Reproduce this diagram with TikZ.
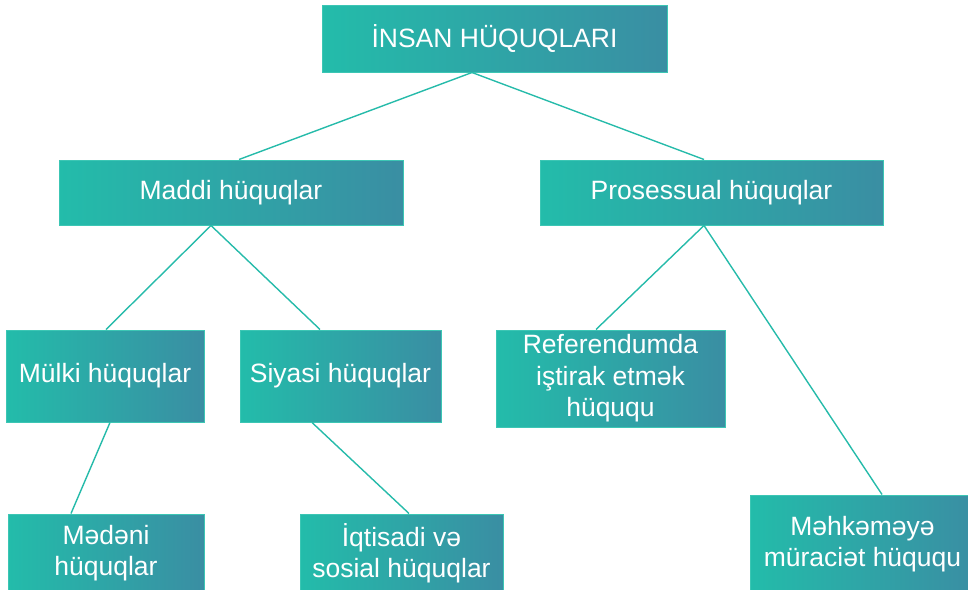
\documentclass[tikz,border=0pt]{standalone}
\usepackage{fontspec}
\setmainfont{Liberation Sans}
\usepackage{xcolor}
\definecolor{boxteal}{HTML}{23BCAA}
\definecolor{boxblue}{HTML}{3A8EA3}
\definecolor{boxedge}{HTML}{3CC6B4}
\definecolor{linkteal}{HTML}{26BBAA}

\begin{document}
\begin{tikzpicture}[
  x=1pt,
  y=-1pt,
  every node/.style={font=\fontsize{26.5}{31.5}\selectfont, text=white, align=center},
  rightsbox/.style={rectangle, draw=boxedge, line width=1pt,
    left color=boxteal, middle color=boxteal, right color=boxblue, inner sep=0pt},
  link/.style={linkteal, line width=1.4pt}
]
  \useasboundingbox (0,0) rectangle (968,589);

  \node[rightsbox, minimum width=345pt, minimum height=67pt] (insan) at (494.5,38.5) {İNSAN HÜQUQLARI};

  \node[rightsbox, minimum width=344pt, minimum height=65pt] (maddi) at (231,192.5) {Maddi hüquqlar};
  \node[rightsbox, minimum width=343pt, minimum height=65pt] (prosessual) at (711.5,192.5) {Prosessual hüquqlar};

  \node[rightsbox, minimum width=198pt, minimum height=92pt] (mulki) at (105,376) {Mülki hüquqlar};
  \node[rightsbox, minimum width=201pt, minimum height=92pt] (siyasi) at (340.5,376) {Siyasi hüquqlar};
  \node[rightsbox, minimum width=229pt, minimum height=97pt] (referendum) at (610.5,378.5) {Referendumda\\iştirak etmək\\hüququ};

  \node[rightsbox, minimum width=196pt, minimum height=78pt] (medeni) at (106,553) {Mədəni\\hüquqlar};
  \node[rightsbox, minimum width=203pt, minimum height=78pt] (iqtisadi) at (401.5,553) {İqtisadi və\\sosial hüquqlar};
  \node[rightsbox, minimum width=225pt, minimum height=98pt] (mehkeme) at (862.5,544) {Məhkəməyə\\müraciət hüququ};

  \draw[link] ([xshift=-22.5pt]insan.south) -- ([xshift=8pt]maddi.north);
  \draw[link] ([xshift=-22.5pt]insan.south) -- ([xshift=-7.5pt]prosessual.north);

  \draw[link] ([xshift=-20pt]maddi.south) -- ([xshift=1pt]mulki.north);
  \draw[link] ([xshift=-20pt]maddi.south) -- ([xshift=-20.5pt]siyasi.north);

  \draw[link] ([xshift=-7.5pt]prosessual.south) -- ([xshift=-14.5pt]referendum.north);
  \draw[link] ([xshift=-7.5pt]prosessual.south) -- ([xshift=19.5pt]mehkeme.north);

  \draw[link] ([xshift=5pt]mulki.south) -- ([xshift=-35pt]medeni.north);
  \draw[link] ([xshift=-28.5pt]siyasi.south) -- ([xshift=7.5pt]iqtisadi.north);
\end{tikzpicture}
\end{document}
